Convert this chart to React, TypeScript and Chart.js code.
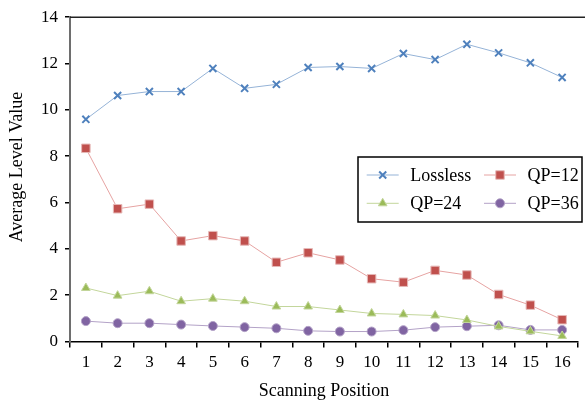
import React, { useEffect, useRef } from "react";
import { Chart, registerables } from "chart.js";

Chart.register(...registerables);

const categories = ["1", "2", "3", "4", "5", "6", "7", "8", "9", "10", "11", "12", "13", "14", "15", "16"];
const lossless = [9.59, 10.62, 10.79, 10.79, 11.79, 10.93, 11.1, 11.83, 11.87, 11.79, 12.43, 12.17, 12.83, 12.46, 12.03, 11.4];
const qp12 = [8.34, 5.73, 5.93, 4.34, 4.57, 4.34, 3.42, 3.83, 3.52, 2.71, 2.56, 3.07, 2.87, 2.03, 1.57, 0.94];
const qp24 = [2.31, 1.98, 2.17, 1.74, 1.85, 1.74, 1.51, 1.51, 1.36, 1.21, 1.17, 1.12, 0.93, 0.65, 0.44, 0.24];
const qp36 = [0.88, 0.79, 0.79, 0.73, 0.67, 0.62, 0.57, 0.46, 0.43, 0.43, 0.49, 0.62, 0.66, 0.7, 0.5, 0.5];
const seriesNames = ["Lossless", "QP=12", "QP=24", "QP=36"];
const yTitle = "Average Level Value";
const xTitle = "Scanning Position";

const FONT = "Liberation Serif";

Chart.defaults.font.family = FONT;
Chart.defaults.color = "#000";

const styles = [
  { line: "#95b3d7", point: "#4f81bd", pointBorder: "#4f81bd", style: "crossRot", radius: 5, bw: 2 },
  { line: "#e6a3a2", point: "#c0504d", pointBorder: "#e6b9b8", style: "rect", radius: 6, bw: 1 },
  { line: "#c3d69b", point: "#9bbb59", pointBorder: "#c3d69b", style: "triangle", radius: 5, bw: 1 },
  { line: "#b3a2c7", point: "#8064a2", pointBorder: "#b3a2c7", style: "circle", radius: 4.5, bw: 1 },
];

function legendMarker(ctx: CanvasRenderingContext2D, style: string, r: number, x: number, y: number) {
  ctx.beginPath();
  if (style === "crossRot") {
    const o = Math.SQRT1_2 * r;
    ctx.moveTo(x - o, y - o);
    ctx.lineTo(x + o, y + o);
    ctx.moveTo(x - o, y + o);
    ctx.lineTo(x + o, y - o);
    ctx.stroke();
    return;
  }
  if (style === "rect") {
    const s = Math.SQRT1_2 * r;
    ctx.rect(x - s, y - s, 2 * s, 2 * s);
  } else if (style === "triangle") {
    for (let k = 0; k < 3; k++) {
      const a = -Math.PI / 2 + (k * 2 * Math.PI) / 3;
      const px = x + Math.cos(a) * r;
      const py = y + Math.sin(a) * r;
      if (k === 0) ctx.moveTo(px, py);
      else ctx.lineTo(px, py);
    }
    ctx.closePath();
  } else {
    ctx.arc(x, y, r, 0, Math.PI * 2);
  }
  ctx.fill();
  ctx.stroke();
}

const overlayPlugin = {
  id: "overlay",
  afterDraw(chart: any) {
    const ctx = chart.ctx as CanvasRenderingContext2D;
    const ca = chart.chartArea;
    ctx.save();
    ctx.strokeStyle = "#222";
    ctx.lineWidth = 1.5;
    ctx.beginPath();
    ctx.moveTo(ca.left, ca.top);
    ctx.lineTo(chart.width, ca.top);
    ctx.stroke();

    ctx.fillStyle = "#000";
    ctx.font = `18px "${FONT}"`;
    ctx.textAlign = "center";
    ctx.textBaseline = "middle";
    ctx.fillText(xTitle, (ca.left + ca.right) / 2, 391);
    ctx.save();
    ctx.translate(17, 167);
    ctx.rotate(-Math.PI / 2);
    ctx.fillText(yTitle, 0, 0);
    ctx.restore();

    const bx = 358, by = 157, bw = 224, bh = 65;
    ctx.fillStyle = "#fff";
    ctx.fillRect(bx, by, bw, bh);
    ctx.strokeStyle = "#000";
    ctx.lineWidth = 1.5;
    ctx.strokeRect(bx, by, bw, bh);
    const cols = [366.7, 484];
    const rows = [175, 203.3];
    chart.data.datasets.forEach((ds: any, i: number) => {
      const s = styles[i];
      const x0 = cols[i % 2];
      const y0 = rows[Math.floor(i / 2)];
      ctx.strokeStyle = s.line;
      ctx.lineWidth = 1;
      ctx.beginPath();
      ctx.moveTo(x0, y0);
      ctx.lineTo(x0 + 32, y0);
      ctx.stroke();
      ctx.fillStyle = s.point;
      ctx.strokeStyle = s.pointBorder;
      ctx.lineWidth = s.bw;
      legendMarker(ctx, s.style, s.radius, x0 + 16, y0);
      ctx.fillStyle = "#000";
      ctx.font = `18px "${FONT}"`;
      ctx.textAlign = "left";
      ctx.textBaseline = "middle";
      ctx.fillText(ds.label, x0 + 43.5, y0 + 1);
    });
    ctx.restore();
  },
};

export default function App() {
  const ref = useRef<HTMLCanvasElement | null>(null);
  useEffect(() => {
    if (!ref.current) return;
    const seriesData = [lossless, qp12, qp24, qp36];
    const chart = new Chart(ref.current, {
      type: "line",
      data: {
        labels: categories,
        datasets: seriesData.map((d, i) => ({
          label: seriesNames[i],
          data: d,
          borderColor: styles[i].line,
          borderWidth: 1,
          backgroundColor: styles[i].point,
          pointBackgroundColor: styles[i].point,
          pointBorderColor: styles[i].pointBorder,
          pointBorderWidth: styles[i].bw,
          pointStyle: styles[i].style as any,
          pointRadius: styles[i].radius,
          tension: 0,
          fill: false,
        })),
      },
      options: {
        animation: false,
        responsive: false,
        devicePixelRatio: 1,
        layout: { padding: { top: 13, right: 0, left: 0, bottom: 0 } },
        plugins: { legend: { display: false }, tooltip: { enabled: false } },
        scales: {
          x: {
            type: "category",
            offset: true,
            grid: { offset: true, drawOnChartArea: false, drawTicks: true, tickLength: 6, color: "#000", lineWidth: 1.5 },
            border: { display: true, color: "#000", width: 1.5 },
            ticks: { color: "#000", font: { family: FONT, size: 17 }, padding: 5, maxRotation: 0, autoSkip: false },
            afterFit: (s: any) => { s.height = 60.5; },
          },
          y: {
            min: 0,
            max: 14,
            grid: { drawOnChartArea: false, drawTicks: true, tickLength: 5, color: "#000", lineWidth: 1.5 },
            border: { display: true, color: "#6e6e6e", width: 2 },
            ticks: { stepSize: 2, color: "#000", font: { family: FONT, size: 17 }, padding: 7 },
            afterFit: (s: any) => { s.width = 70; },
          },
        },
      },
      plugins: [overlayPlugin],
    });
    return () => chart.destroy();
  }, []);
  return (
    <div style={{ position: "fixed", left: 0, top: 0, width: 585, height: 402, background: "#fff" }}>
      <canvas ref={ref} width={585} height={402} />
    </div>
  );
}
